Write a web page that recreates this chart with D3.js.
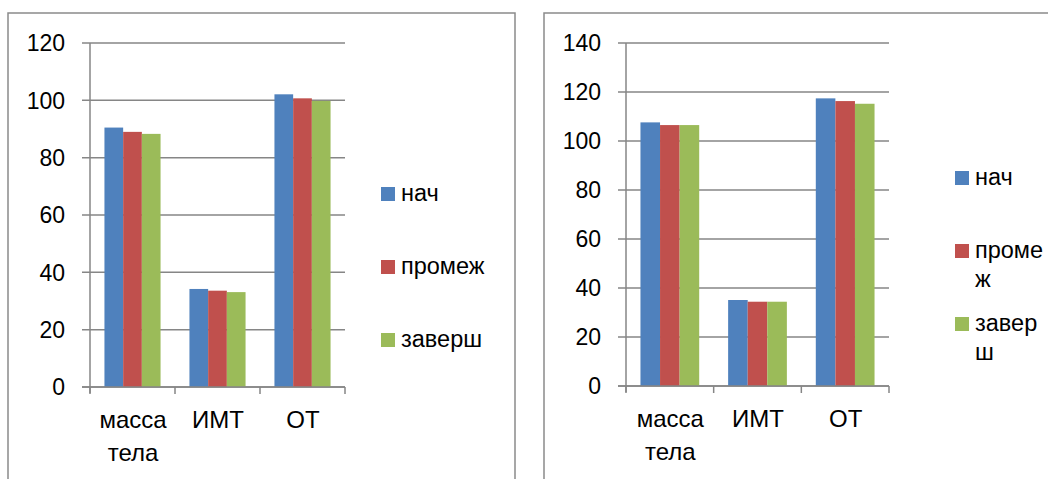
<!DOCTYPE html>
<html><head><meta charset="utf-8">
<script src="https://cdn.jsdelivr.net/npm/d3@7"></script>
<style>
html,body{margin:0;padding:0;background:#fff;}
svg{display:block;}
text{font-family:"Liberation Sans",Arial,sans-serif;fill:#000;}
</style></head>
<body>
<svg id="chart" width="1048" height="479"></svg>
<script>
const categories = ["масса тела", "ИМТ", "ОТ"];
const seriesNames = ["нач", "промеж", "заверш"];
const seriesColors = ["#4f81bd", "#c0504d", "#9bbb59"];
// left chart values per series (нач, промеж, заверш) for each category
const leftNach   = [90.5, 34.2, 102.1];
const leftPromezh = [89.0, 33.6, 100.7];
const leftZaversh = [88.3, 33.1, 99.8];
const leftTicks = [0, 20, 40, 60, 80, 100, 120];
// right chart values
const rightNach   = [107.6, 35.1, 117.4];
const rightPromezh = [106.5, 34.4, 116.3];
const rightZaversh = [106.5, 34.4, 115.2];
const rightTicks = [0, 20, 40, 60, 80, 100, 120, 140];

const svg = d3.select("#chart");

function drawChart(cfg) {
  const g = svg.append("g");
  g.append("rect").attr("x", cfg.frame.x).attr("y", cfg.frame.y)
    .attr("width", cfg.frame.w).attr("height", cfg.frame.h)
    .attr("fill", "none").attr("stroke", "#8a8a8a").attr("stroke-width", 1.5);

  const y = d3.scaleLinear().domain([0, d3.max(cfg.ticks)]).range([cfg.plot.y1, cfg.plot.y0]);
  const x = d3.scaleBand().domain(categories).range([cfg.plot.x0, cfg.plot.x1]).padding(0);
  const pad = x.bandwidth() * cfg.groupPad;
  const x1 = d3.scaleBand().domain(seriesNames).range([pad, x.bandwidth() - pad]).padding(0);

  g.append("g").selectAll("line").data(cfg.ticks).join("line")
    .attr("x1", cfg.plot.x0 - 8).attr("x2", cfg.plot.x1)
    .attr("y1", d => y(d)).attr("y2", d => y(d))
    .attr("stroke", "#868686").attr("stroke-width", 1.5);

  g.append("line").attr("x1", cfg.plot.x0).attr("x2", cfg.plot.x0)
    .attr("y1", cfg.plot.y0).attr("y2", cfg.plot.y1 + 6)
    .attr("stroke", "#868686").attr("stroke-width", 1.5);

  g.append("g").selectAll("text").data(cfg.ticks).join("text")
    .attr("x", cfg.plot.x0 - 25).attr("y", d => y(d))
    .attr("dy", "0.36em").attr("text-anchor", "end")
    .style("font-size", "23px").text(d => d);

  const seriesVals = cfg.values;
  seriesNames.forEach((s, si) => {
    g.append("g").selectAll("rect").data(seriesVals[si]).join("rect")
      .attr("x", (d, i) => x(categories[i]) + x1(s))
      .attr("width", x1.bandwidth())
      .attr("y", d => y(d))
      .attr("height", d => y(0) - y(d))
      .attr("fill", seriesColors[si]);
  });

  g.append("line").attr("x1", cfg.plot.x0 - 8).attr("x2", cfg.plot.x1)
    .attr("y1", y(0)).attr("y2", y(0))
    .attr("stroke", "#868686").attr("stroke-width", 1.5);
  const bounds = categories.map(c => x(c)).concat([cfg.plot.x1]);
  g.append("g").selectAll("line").data(bounds).join("line")
    .attr("x1", d => d).attr("x2", d => d)
    .attr("y1", y(0)).attr("y2", y(0) + 7)
    .attr("stroke", "#868686").attr("stroke-width", 1.5);

  categories.forEach(c => {
    const words = c.split(" ");
    const cx = x(c) + x.bandwidth() / 2 + 0.5;
    const t = g.append("text").attr("text-anchor", "middle")
      .attr("x", cx).attr("y", y(0) + 41).style("font-size", "24px");
    words.forEach((w, i) => {
      t.append("tspan").attr("x", cx).attr("dy", i === 0 ? 0 : 33).text(w);
    });
  });

  seriesNames.forEach((s, si) => {
    const ly = cfg.legend.y + si * cfg.legend.step;
    g.append("rect").attr("x", cfg.legend.x).attr("y", ly)
      .attr("width", 14).attr("height", 14).attr("fill", seriesColors[si]);
    const t = g.append("text").attr("x", cfg.legend.tx).attr("y", ly + 14)
      .style("font-size", "23.5px");
    let line = "";
    let lines = [];
    const probe = g.append("text").style("font-size", "23.5px");
    for (const ch of s) {
      probe.text(line + ch);
      if (probe.node().getComputedTextLength() > cfg.legend.maxW && line.length) {
        lines.push(line); line = ch;
      } else line += ch;
    }
    lines.push(line);
    probe.remove();
    lines.forEach((l, i) => {
      t.append("tspan").attr("x", cfg.legend.tx).attr("dy", i === 0 ? 0 : 29).text(l);
    });
  });
}

drawChart({
  frame: {x: 8, y: 13, w: 507, h: 520},
  plot: {x0: 90, x1: 345, y0: 43, y1: 387},
  ticks: leftTicks,
  groupPad: 0.17,
  values: [leftNach, leftPromezh, leftZaversh],
  legend: {x: 381, y: 187, step: 73, tx: 401, maxW: 200}
});
drawChart({
  frame: {x: 544, y: 13, w: 600, h: 520},
  plot: {x0: 626, x1: 889, y0: 43, y1: 386},
  ticks: rightTicks,
  groupPad: 0.165,
  values: [rightNach, rightPromezh, rightZaversh],
  legend: {x: 955, y: 171, step: 73, tx: 975, maxW: 72}
});
</script>
</body></html>
